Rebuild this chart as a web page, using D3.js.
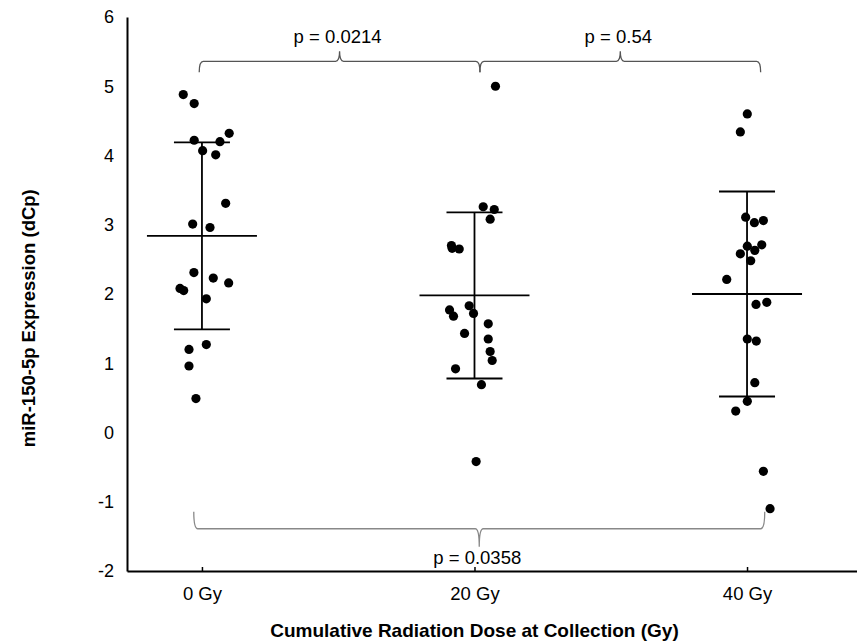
<!DOCTYPE html>
<html>
<head>
<meta charset="utf-8">
<script src="https://cdn.jsdelivr.net/npm/d3@7"></script>
<style>
    body { margin: 0; background: #fff; }
    text { font-family: 'Liberation Sans', Arial, sans-serif; }
</style>
</head>
<body>
<div id="chart"></div>
<script>
// groups on the x axis (cumulative dose, Gy)
const doses = [0, 20, 40];
const dose_labels = ['0 Gy', '20 Gy', '40 Gy'];
const y_ticks = [-2, -1, 0, 1, 2, 3, 4, 5, 6];

// per-sample expression (dCp) and horizontal jitter (in Gy)
const values_0gy = [4.88, 4.75, 4.32, 4.22, 4.20, 4.07, 4.01, 3.31, 3.01, 2.96, 2.31, 2.23, 2.16, 2.08, 2.05, 1.93, 1.27, 1.20, 0.96, 0.49];
const jitter_0gy = [-1.37, -0.57, 2.00, -0.57, 1.32, 0.05, 1.01, 1.74, -0.68, 0.59, -0.59, 0.83, 1.96, -1.61, -1.34, 0.32, 0.32, -0.95, -0.95, -0.44];

const values_20gy = [5.00, 3.26, 3.22, 3.08, 2.70, 2.66, 2.65, 1.83, 1.77, 1.68, 1.72, 1.57, 1.43, 1.35, 1.17, 1.04, 0.92, 0.69, -0.42];
const jitter_20gy = [1.54, 0.64, 1.45, 1.15, -1.69, -1.64, -1.12, -0.39, -1.83, -1.54, -0.07, 1.01, -0.73, 1.01, 1.15, 1.30, -1.39, 0.51, 0.12];

const values_40gy = [4.60, 4.34, 3.11, 3.03, 3.06, 2.69, 2.71, 2.63, 2.58, 2.48, 2.21, 1.85, 1.88, 1.35, 1.32, 0.72, 0.45, 0.31, -0.56, -1.10];
const jitter_40gy = [0.02, -0.49, -0.10, 0.54, 1.20, 0.02, 1.08, 0.57, -0.49, 0.27, -1.49, 0.66, 1.45, 0.02, 0.68, 0.57, 0.02, -0.83, 1.20, 1.69];

// mean +/- SD bars
const means = [2.84, 1.98, 2.00];
const sds = [1.35, 1.20, 1.48];

// significance brackets: [from dose, to dose], y level, p text
const bracket_from = [-0.2, 20.4, -0.6];
const bracket_to = [20.4, 41.0, 41.3];
const bracket_level = [5.36, 5.36, -1.39];
const bracket_p = ['p = 0.0214', 'p = 0.54', 'p = 0.0358'];

class DotPlot {
    constructor(config) {
        this.config = {
            parent: config.parent,
            width: config.width || 857,
            height: config.height || 644
        };
        this.init();
    }

    init() {
        let self = this;

        self.svg = d3.select(self.config.parent).append('svg')
            .attr('width', self.config.width)
            .attr('height', self.config.height);

        self.xscale = d3.scaleLinear().domain([-5.5, 48.07]).range([127, 857]);
        self.yscale = d3.scaleLinear().domain([-2, 6]).range([571, 17]);

        self.samples = [];
        [values_0gy, values_20gy, values_40gy].forEach((vals, g) => {
            const jit = [jitter_0gy, jitter_20gy, jitter_40gy][g];
            vals.forEach((v, i) => self.samples.push({ x: doses[g] + jit[i], y: v }));
        });
    }

    render() {
        let self = this;
        const x = self.xscale, y = self.yscale;
        const font = 'Liberation Sans, Arial, sans-serif';

        // axes
        const xaxis = d3.axisBottom(x)
            .tickValues(doses)
            .tickFormat((d, i) => dose_labels[i])
            .tickSizeInner(-4)
            .tickSizeOuter(0)
            .tickPadding(16);
        const xg = self.svg.append('g')
            .attr('transform', `translate(0, ${y(-2)})`)
            .call(xaxis);
        xg.select('.domain').attr('stroke', '#000').attr('stroke-width', 2);
        xg.selectAll('.tick line').attr('stroke', '#000').attr('stroke-width', 1.5);
        xg.selectAll('.tick text').attr('font-size', 18.5).attr('fill', '#000').attr('font-family', font);

        // plain hyphen for negatives, as in the original
        const yaxis = d3.axisLeft(y)
            .tickValues(y_ticks)
            .tickFormat(d => String(d))
            .tickSize(0)
            .tickPadding(13);
        const yg = self.svg.append('g')
            .attr('transform', `translate(${x.range()[0]}, 0)`)
            .call(yaxis);
        yg.select('.domain').attr('stroke', '#000').attr('stroke-width', 2);
        yg.selectAll('.tick text').attr('font-size', 18).attr('fill', '#000').attr('font-family', font);

        // axis titles
        self.svg.append('text')
            .attr('x', x(20))
            .attr('y', 637)
            .attr('text-anchor', 'middle')
            .attr('font-size', 19)
            .attr('font-weight', 'bold')
            .text('Cumulative Radiation Dose at Collection (Gy)');

        self.svg.append('text')
            .attr('transform', `translate(35, ${y(1.65)}) rotate(-90)`)
            .attr('text-anchor', 'middle')
            .attr('font-size', 18.5)
            .attr('font-weight', 'bold')
            .text('miR-150-5p Expression (dCp)');

        // significance brackets
        bracket_from.forEach((x0, i) => {
            const a = x(x0), b = x(bracket_to[i]), m = (a + b) / 2;
            const yl = y(bracket_level[i]);
            const up = bracket_level[i] > 0;
            const arm = up ? 11 : -17;   // end arms
            const tip = up ? -10 : 18;   // middle cusp
            const path = `M${a},${yl + arm} Q${a},${yl} ${a + 4},${yl} L${m - 4},${yl} Q${m},${yl} ${m},${yl + tip}` +
                ` Q${m},${yl} ${m + 4},${yl} L${b - 4},${yl} Q${b},${yl} ${b},${yl + arm}`;
            self.svg.append('path')
                .attr('d', path)
                .attr('fill', 'none')
                .attr('stroke', up ? '#555' : '#888')
                .attr('stroke-width', 1.3);
            self.svg.append('text')
                .attr('x', m - 2)
                .attr('y', up ? yl - 18 : yl + 35)
                .attr('text-anchor', 'middle')
                .attr('font-size', 18.5)
                .attr('fill', '#000')
                .text(bracket_p[i]);
        });

        // mean +/- SD bars
        doses.forEach((d, i) => {
            const cx = x(d);
            const g = self.svg.append('g').attr('stroke', '#000').attr('stroke-width', 1.8);
            g.append('line').attr('x1', cx).attr('x2', cx)
                .attr('y1', y(means[i] + sds[i])).attr('y2', y(means[i] - sds[i]));
            [means[i] + sds[i], means[i] - sds[i]].forEach(v => {
                g.append('line').attr('x1', cx - 28).attr('x2', cx + 28)
                    .attr('y1', y(v)).attr('y2', y(v));
            });
            g.append('line').attr('x1', cx - 55).attr('x2', cx + 55)
                .attr('y1', y(means[i])).attr('y2', y(means[i]));
        });

        // samples
        self.svg.append('g').selectAll('circle')
            .data(self.samples)
            .join('circle')
            .attr('cx', d => x(d.x))
            .attr('cy', d => y(d.y))
            .attr('r', 4.6)
            .attr('fill', '#000');
    }
}

const plot = new DotPlot({ parent: '#chart', width: 857, height: 644 });
plot.render();
</script>
</body>
</html>
